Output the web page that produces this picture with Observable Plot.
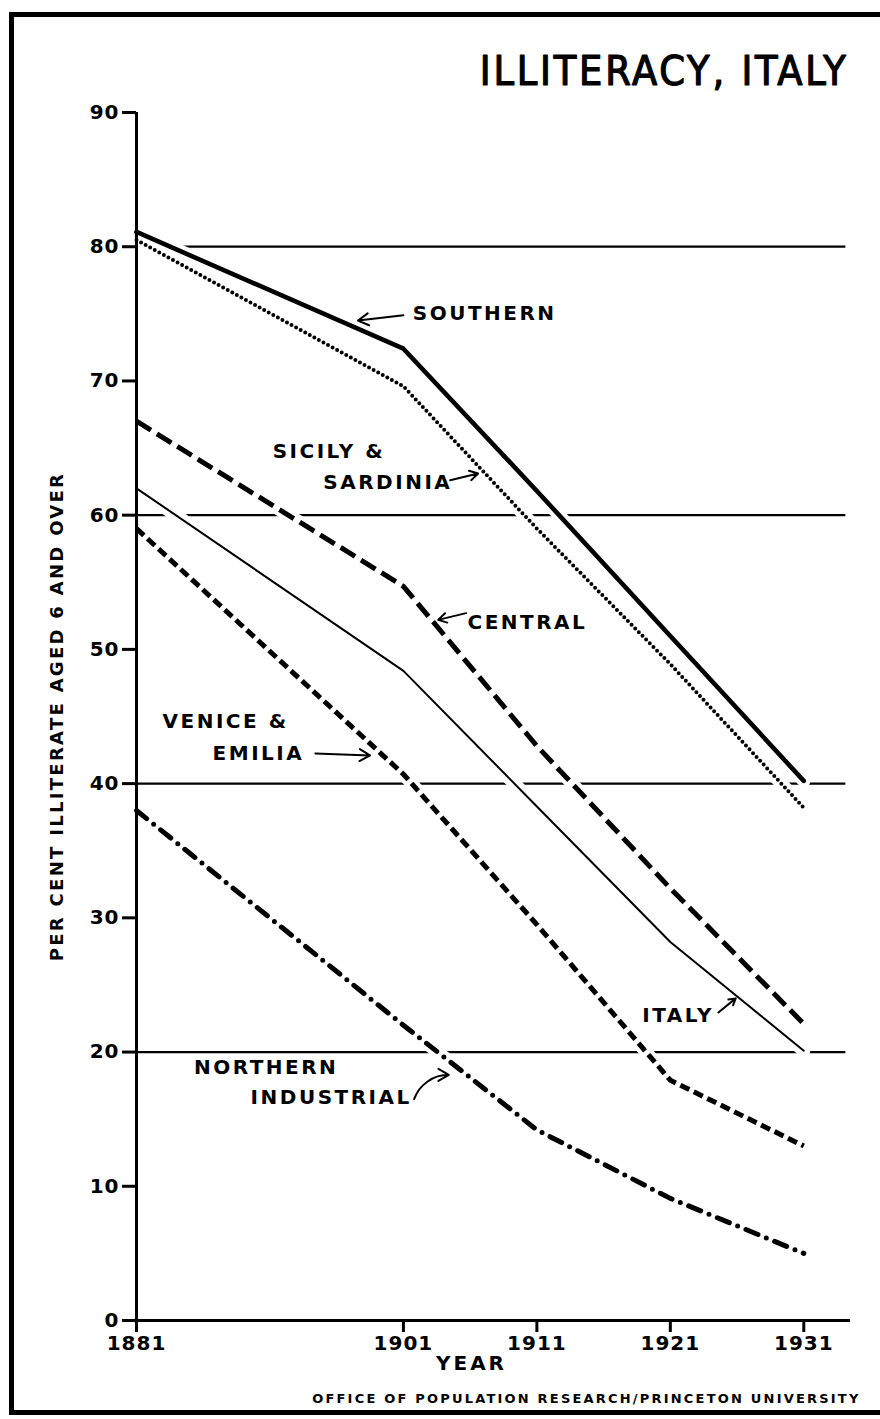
<!DOCTYPE html>
<html>
<head>
<meta charset="utf-8">
<script src="https://cdn.jsdelivr.net/npm/d3@7"></script>
<script src="https://cdn.jsdelivr.net/npm/@observablehq/plot@0.6"></script>
<style>
  html, body { margin: 0; padding: 0; background: #fff; }
  #page { position: relative; width: 880px; height: 1419px; overflow: hidden; background: #fff; }
  #chart { position: absolute; left: 0; top: 0; }
  #border { position: absolute; left: 9px; top: 12px; width: 920px; height: 1403px;
            border: 5px solid #000; border-right: none; box-sizing: border-box; pointer-events: none; }
</style>
</head>
<body>
<div id="page">
  <div id="chart"></div>
  <div id="border"></div>
</div>
<script>
// Census years and per cent illiterate (aged 6 and over) by region
const years = [1881, 1901, 1911, 1921, 1931];
const southern = [81.1, 72.4, 61.8, 51.0, 40.2];
const sicilySardinia = [80.5, 69.6, 59.0, 48.9, 38.2];
const central = [67.0, 54.7, 42.8, 32.2, 22.1];
const italy = [62.0, 48.4, 38.3, 28.2, 20.1];
const veniceEmilia = [59.0, 40.7, 29.5, 17.9, 13.0];
const northernIndustrial = [38.0, 22.0, 14.2, 9.1, 5.0];

const yTicks = [0, 10, 20, 30, 40, 50, 60, 70, 80, 90];
const gridValues = [20, 40, 60, 80];

const title = "ILLITERACY, ITALY";
const yLabel = "PER CENT ILLITERATE AGED 6 AND OVER";
const xLabel = "YEAR";
const credit = "OFFICE OF POPULATION RESEARCH/PRINCETON UNIVERSITY";

// Line style for each region
const seriesList = [
  {name: "Southern", values: southern, strokeWidth: 4.6, dash: null, cap: "round"},
  {name: "Sicily & Sardinia", values: sicilySardinia, strokeWidth: 4, dash: "0 5.2", cap: "round"},
  {name: "Central", values: central, strokeWidth: 5, dash: "17 7", cap: "butt"},
  {name: "Italy", values: italy, strokeWidth: 2, dash: null, cap: "round"},
  {name: "Venice & Emilia", values: veniceEmilia, strokeWidth: 5, dash: "10 5", cap: "butt"},
  {name: "Northern Industrial", values: northernIndustrial, strokeWidth: 5, dash: "13 9 0 9", cap: "round"}
];

const rows = seriesList.flatMap(s => years.map((year, i) => ({series: s.name, year, value: s.values[i]})));

// Hand-lettered region labels and their pointer arrows (in year / per cent units)
const notes = [
  {text: "SOUTHERN", x: 1901.7, y: 75.0},
  {text: "SICILY &", x: 1891.2, y: 64.7},
  {text: "SARDINIA", x: 1895.0, y: 62.4},
  {text: "CENTRAL", x: 1905.8, y: 52.0},
  {text: "VENICE &", x: 1882.95, y: 44.6},
  {text: "EMILIA", x: 1886.7, y: 42.25},
  {text: "ITALY", x: 1918.9, y: 22.7},
  {text: "NORTHERN", x: 1885.3, y: 18.85},
  {text: "INDUSTRIAL", x: 1889.55, y: 16.6}
];
const pointers = [
  {x1: 1901.0, y1: 74.9, x2: 1897.6, y2: 74.5},
  {x1: 1904.5, y1: 62.6, x2: 1906.6, y2: 63.1},
  {x1: 1905.7, y1: 52.7, x2: 1903.6, y2: 52.2},
  {x1: 1894.4, y1: 42.25, x2: 1898.5, y2: 42.1},
  {x1: 1924.6, y1: 22.95, x2: 1925.9, y2: 24.0}
];
const curvedPointers = [
  {x1: 1901.8, y1: 16.5, x2: 1904.4, y2: 18.3}
];

const sans = "'DejaVu Sans', 'Noto Sans', sans-serif";

const lineMarks = seriesList.map(s => Plot.line(rows.filter(r => r.series === s.name), {
  x: "year", y: "value",
  stroke: "black",
  strokeWidth: s.strokeWidth,
  strokeDasharray: s.dash,
  strokeLinecap: s.cap,
  strokeLinejoin: "round"
}));

const chart = Plot.plot({
  width: 880,
  height: 1419,
  marginLeft: 136,
  marginRight: 30,
  marginTop: 112,
  marginBottom: 99,
  style: {background: "transparent", color: "black", fontFamily: sans},
  x: {domain: [1881, 1934.5], axis: null},
  y: {domain: [0, 90], axis: null},
  marks: [
    // horizontal reference lines, broken where the curves cross them
    Plot.ruleY(gridValues, {x1: 1881, x2: 1934.15, stroke: "black", strokeWidth: 2.2}),
    Plot.line(rows, {x: "year", y: "value", z: "series", stroke: "white", strokeWidth: 13, strokeLinecap: "round", strokeLinejoin: "round"}),
    ...lineMarks,
    // axis lines
    Plot.ruleX([1881], {y1: 0, y2: 90, stroke: "black", strokeWidth: 3}),
    Plot.ruleY([0], {x1: 1881, x2: 1934.5, stroke: "black", strokeWidth: 3}),
    Plot.axisY(yTicks, {tickSize: 14, tickPadding: 3, strokeWidth: 3, fontSize: 20, fontWeight: "bold", label: null, tickFormat: d => String(d)}),
    Plot.axisX(years, {tickSize: 12, tickPadding: 3, strokeWidth: 3, fontSize: 20, fontWeight: "bold", label: null, tickFormat: d => String(d)}),
    // region labels
    Plot.text(notes, {x: "x", y: "y", text: "text", textAnchor: "start", lineAnchor: "middle", fontSize: 20, fontWeight: "bold", fill: "black"}),
    Plot.arrow(pointers, {x1: "x1", y1: "y1", x2: "x2", y2: "y2", stroke: "black", strokeWidth: 2, headLength: 9}),
    Plot.arrow(curvedPointers, {x1: "x1", y1: "y1", x2: "x2", y2: "y2", stroke: "black", strokeWidth: 2, headLength: 9, bend: 35}),
    // titles
    Plot.text([title], {frameAnchor: "top-right", textAnchor: "end", lineAnchor: "bottom", dx: -2, dy: -28, fontSize: 41, fontFamily: "'DejaVu Sans Condensed', Roboto, sans-serif", fill: "black", stroke: "black", strokeWidth: 1.2}),
    Plot.text([yLabel], {frameAnchor: "left", rotate: -90, dx: -79, textAnchor: "middle", lineAnchor: "middle", fontSize: 18, fontWeight: "bold", fill: "black"}),
    Plot.text([xLabel], {frameAnchor: "bottom", textAnchor: "middle", lineAnchor: "middle", dx: -22, dy: 43, fontSize: 20, fontWeight: "bold", fill: "black"}),
    Plot.text([credit], {frameAnchor: "bottom-right", textAnchor: "end", lineAnchor: "middle", dx: 10, dy: 78, fontSize: 13, fontWeight: "bold", fill: "black"})
  ]
});

// Letter spacing of the hand lettering
const spacing = new Map([
  [title, "2.8px"], [yLabel, "2.3px"], [xLabel, "3px"], [credit, "2.2px"]
]);
d3.select(chart).selectAll("text").each(function() {
  const t = this.textContent;
  this.style.letterSpacing = spacing.has(t) ? spacing.get(t) : (notes.some(n => n.text === t) ? "2.5px" : "1px");
});

document.getElementById("chart").appendChild(chart);
</script>
</body>
</html>
